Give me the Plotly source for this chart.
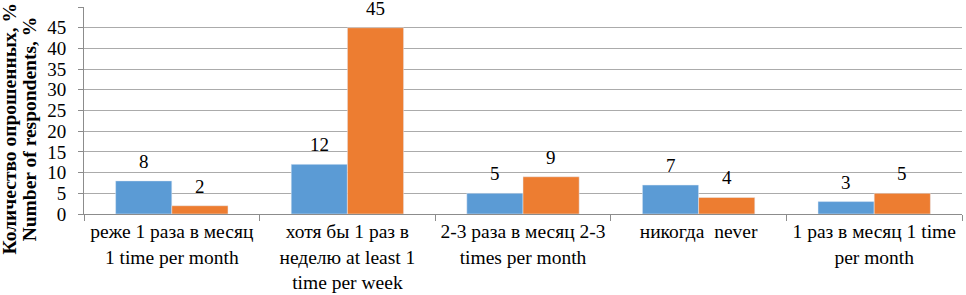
import plotly.graph_objects as go

categories = [
    "реже 1 раза в месяц<br>1 time per month",
    "хотя бы 1 раз в<br>неделю at least 1<br>time per week",
    "2-3 раза в месяц 2-3<br>times per month",
    "никогда  never",
    "1 раз в месяц 1 time<br>per month",
]
series_blue = [8, 12, 5, 7, 3]
series_orange = [2, 45, 9, 4, 5]
y_ticks = [0, 5, 10, 15, 20, 25, 30, 35, 40, 45, 50]
title_lines = ["Количество опрошенных, %", "Number of respondents, %"]

FONT = "Liberation Serif, Times New Roman, serif"
BAR_HALF = 28  # horizontal offset of each bar's label from the category centre

fig = go.Figure()
fig.add_trace(go.Bar(x=categories, y=series_blue, marker_color="#5B9BD5"))
fig.add_trace(go.Bar(x=categories, y=series_orange, marker_color="#ED7D31"))

annotations = []
for series, shift in ((series_blue, -BAR_HALF), (series_orange, BAR_HALF)):
    for cat, val in zip(categories, series):
        annotations.append(dict(
            x=cat, y=val, xref="x", yref="y", text=str(val), showarrow=False,
            xanchor="center", yanchor="bottom", xshift=shift, yshift=7,
            font=dict(family=FONT, size=19, color="black"),
        ))
# y-axis title, two rotated lines
for xpos, line in zip((-0.0843, -0.0617), title_lines):
    annotations.append(dict(
        x=xpos, y=0.413, xref="paper", yref="paper", text="<b>" + line + "</b>",
        showarrow=False, textangle=-90, xanchor="center", yanchor="middle",
        font=dict(family=FONT, size=19.5, color="black"),
    ))

fig.update_layout(
    width=966, height=295,
    margin=dict(l=84, r=4, t=7, b=81),
    paper_bgcolor="white", plot_bgcolor="white",
    showlegend=False,
    barmode="group", bargap=0.36, bargroupgap=0,
    font=dict(family=FONT, size=19, color="black"),
    annotations=annotations,
)
fig.update_xaxes(
    type="category", tickson="boundaries", ticks="outside", ticklen=6,
    tickcolor="#8C8C8C", showline=True, linecolor="#8C8C8C",
    tickfont=dict(family=FONT, size=19.5, color="black"),
    showgrid=False, automargin=False,
)
fig.update_yaxes(
    range=[0, 50], tickvals=y_ticks, ticks="outside", ticklen=5,
    tickcolor="#8C8C8C", showline=True, linecolor="#8C8C8C",
    showgrid=True, gridcolor="#ABABAB", gridwidth=1,
    tickfont=dict(family=FONT, size=19, color="black"),
    ticklabelstandoff=8,
    zeroline=False, automargin=False,
)

fig.write_html("out.html", config={"displayModeBar": False},
               post_script="document.body.style.margin='0';document.body.style.padding='0';")
